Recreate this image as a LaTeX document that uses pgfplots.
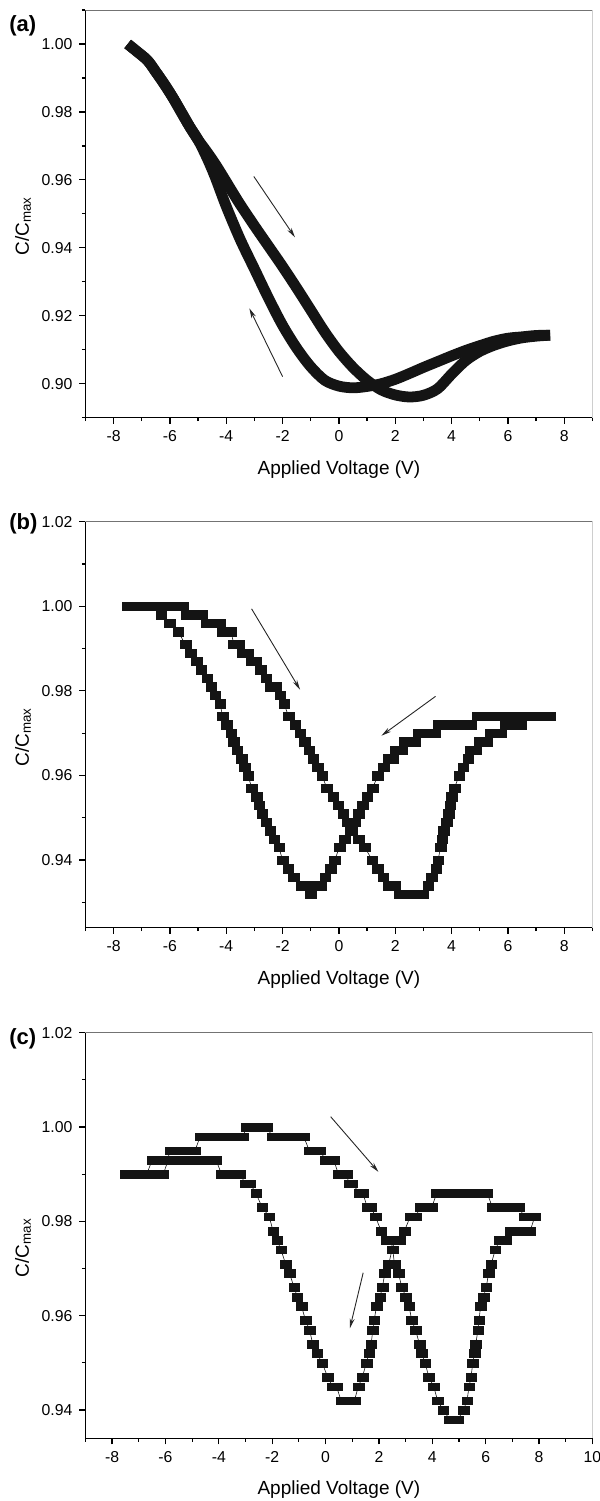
\documentclass[border=0pt]{standalone}
\usepackage{fontspec}
\setmainfont{Liberation Sans}
\usepackage{pgfplots}
\pgfplotsset{compat=1.18}
\usetikzlibrary{arrows.meta}

% common look of the three panels (1 px of the reference = 0.5pt)
\pgfplotsset{
  cvpanel/.style={
    scale only axis,
    width=253.5pt,
    anchor=north west,
    xmin=-9, xmax=9,
    axis x line*=bottom, axis y line*=left,
    axis line style={line width=0.65pt, black},
    tick align=outside,
    major tick length=3pt, minor tick length=1.75pt,
    every tick/.style={line width=0.6pt, black},
    xtick={-8,-6,...,8},
    minor xtick={-9,-7,...,9},
    /pgf/number format/assume math mode=true,
    tick label style={font=\fontsize{7.9}{9}\selectfont},
    yticklabel style={/pgf/number format/fixed,
      /pgf/number format/fixed zerofill, /pgf/number format/precision=2},
    label style={font=\fontsize{9.5}{11}\selectfont},
    xlabel={Applied Voltage (V)},
    ylabel={C/C\textsubscript{max}},
    xlabel style={at={(axis description cs:0.5,0)}, anchor=base, yshift=-28.25pt},
    ylabel style={at={(axis description cs:-0.1116,0.47)}, anchor=base},
  },
  stepmarks/.style={black!92, line width=0.3pt,
    mark=square*, mark size=2.2pt,
    mark options={solid, fill=black!92, draw=black!92, line width=0.1pt, xscale=1.2, yscale=#1}},
}
\tikzset{note/.style={-{Stealth[length=5pt, width=2.4pt]}, line width=0.45pt, black!85}}

\begin{document}
\begin{tikzpicture}
\path[use as bounding box] (0,0) rectangle (300pt,-750.5pt);

% ---------------- (a) ----------------
\begin{axis}[cvpanel, at={(42.7pt,-5pt)}, height=203.85pt,
    ymin=0.89, ymax=1.01,
    ytick={0.90,0.92,0.94,0.96,0.98,1.00},
    minor ytick={0.89,0.91,0.93,0.95,0.97,0.99,1.01}]
\draw[black!55, line width=0.5pt] (rel axis cs:0,1) -- (rel axis cs:1,1) -- (rel axis cs:1,0);
\addplot[black!92, line width=5.4pt, line join=round, smooth] coordinates {
  (-7.5,1.000)(-7.2,0.998)(-6.8,0.9952)(-6.5,0.9918)(-6.2,0.9882)(-5.9,0.9843)
  (-5.6,0.9800)(-5.3,0.9757)(-5.0,0.9718)(-4.7,0.9684)(-4.4,0.9648)(-4.1,0.9608)
  (-3.8,0.9567)(-3.5,0.9527)(-3.0,0.9465)(-2.5,0.9405)(-2.0,0.9345)(-1.5,0.9282)
  (-1.0,0.9217)(-0.5,0.9152)(0.0,0.9095)(0.5,0.9048)(1.0,0.9010)(1.5,0.8982)
  (2.0,0.8967)(2.5,0.8961)(3.0,0.8966)(3.5,0.8985)(4.0,0.9028)(4.5,0.9068)
  (5.0,0.9095)(5.5,0.9113)(6.0,0.9126)(6.5,0.9135)(7.0,0.9140)(7.5,0.9143)
};
\addplot[black!92, line width=5.4pt, line join=round, smooth] coordinates {
  (7.5,0.9143)(7.0,0.9142)(6.5,0.9138)(6.0,0.9134)(5.5,0.9125)(5.0,0.9112)
  (4.5,0.9098)(4.0,0.9082)(3.5,0.9065)(3.0,0.9048)(2.5,0.9030)(2.0,0.9013)
  (1.5,0.9000)(1.0,0.8992)(0.5,0.8988)(0.0,0.8993)(-0.5,0.9010)(-1.0,0.9050)
  (-1.5,0.9105)(-2.0,0.9172)(-2.5,0.9252)(-3.0,0.9338)(-3.5,0.9424)(-4.0,0.9522)
  (-4.4,0.9610)(-4.7,0.9668)(-5.0,0.9718)(-5.3,0.9757)(-5.6,0.9800)(-5.9,0.9843)
  (-6.2,0.9882)(-6.5,0.9918)(-6.8,0.9952)(-7.2,0.998)(-7.5,1.000)
};
\draw[note] (axis cs:-3.02,0.961) -- (axis cs:-1.56,0.9431);
\draw[note] (axis cs:-2.0,0.9021) -- (axis cs:-3.18,0.9222);
\end{axis}

% ---------------- (b) ----------------
\begin{axis}[cvpanel, at={(42.7pt,-260.85pt)}, height=203pt,
    ymin=0.924, ymax=1.02,
    ytick={0.94,0.96,0.98,1.00,1.02},
    minor ytick={0.93,0.95,0.97,0.99,1.01}]
\draw[black!55, line width=0.5pt] (rel axis cs:0,1) -- (rel axis cs:1,1) -- (rel axis cs:1,0);
\addplot[stepmarks=0.95] coordinates {
  (-7.5,1.000)(-7.3,1.000)(-7.1,1.000)(-6.9,1.000)(-6.7,1.000)(-6.5,1.000)
  (-6.3,1.000)(-6.1,1.000)(-5.9,1.000)(-5.7,1.000)(-5.55,1.000)
  (-5.4,0.998)(-5.2,0.998)(-5.0,0.998)(-4.86,0.998)
  (-4.7,0.996)(-4.5,0.996)(-4.37,0.996)(-4.24,0.996)
  (-4.12,0.994)(-3.95,0.994)(-3.83,0.994)
  (-3.73,0.991)(-3.55,0.991)
  (-3.42,0.989)(-3.25,0.989)
  (-3.11,0.987)(-2.96,0.987)
  (-2.79,0.985)(-2.59,0.983)(-2.43,0.981)(-2.25,0.981)
  (-2.09,0.979)(-1.95,0.977)(-1.79,0.974)(-1.55,0.972)(-1.38,0.970)
  (-1.21,0.968)(-1.06,0.966)(-0.91,0.964)(-0.76,0.962)(-0.60,0.960)
  (-0.43,0.957)(-0.20,0.955)(-0.03,0.953)(0.15,0.951)(0.30,0.949)
  (0.45,0.947)(0.70,0.945)(0.92,0.943)(1.18,0.940)(1.37,0.938)(1.57,0.936)
  (1.76,0.934)(2.0,0.934)
  (2.15,0.932)(2.35,0.932)(2.55,0.932)(2.75,0.932)(2.97,0.932)
  (3.17,0.934)(3.30,0.936)(3.45,0.938)(3.52,0.940)(3.61,0.943)(3.66,0.945)
  (3.72,0.947)(3.82,0.949)(3.90,0.951)(3.95,0.953)(4.0,0.955)(4.10,0.957)
  (4.27,0.960)(4.41,0.962)(4.58,0.964)(4.68,0.966)(4.86,0.966)
  (4.98,0.968)(5.12,0.968)(5.25,0.968)
  (5.39,0.970)(5.58,0.970)(5.76,0.970)
  (5.92,0.972)(6.1,0.972)(6.3,0.972)(6.47,0.972)
  (6.65,0.974)(6.85,0.974)(7.05,0.974)(7.25,0.974)(7.5,0.974)
};
\addplot[stepmarks=0.95] coordinates {
  (7.5,0.974)(7.3,0.974)(7.1,0.974)(6.9,0.974)(6.7,0.974)(6.5,0.974)(6.3,0.974)
  (6.1,0.974)(5.9,0.974)(5.7,0.974)(5.5,0.974)(5.3,0.974)(5.1,0.974)(4.9,0.974)
  (4.70,0.972)(4.5,0.972)(4.3,0.972)(4.1,0.972)(3.9,0.972)(3.7,0.972)(3.53,0.972)
  (3.40,0.970)(3.2,0.970)(3.0,0.970)(2.82,0.970)
  (2.71,0.968)(2.5,0.968)(2.32,0.968)
  (2.22,0.966)(2.02,0.966)
  (1.91,0.964)(1.76,0.964)
  (1.59,0.962)(1.38,0.960)(1.20,0.957)(1.0,0.955)(0.84,0.953)(0.70,0.951)
  (0.55,0.949)(0.40,0.947)(0.21,0.945)(0.02,0.943)(-0.15,0.940)(-0.30,0.938)
  (-0.49,0.936)(-0.65,0.934)(-0.8,0.934)(-1.0,0.932)(-1.2,0.934)(-1.35,0.934)
  (-1.6,0.936)(-1.8,0.938)(-2.0,0.940)(-2.13,0.943)(-2.3,0.945)(-2.45,0.947)
  (-2.59,0.949)(-2.73,0.951)(-2.84,0.953)(-2.93,0.955)(-3.09,0.957)(-3.23,0.960)
  (-3.34,0.962)(-3.45,0.964)(-3.61,0.966)(-3.73,0.968)(-3.83,0.970)(-3.98,0.972)
  (-4.13,0.974)(-4.22,0.977)(-4.4,0.979)(-4.54,0.981)(-4.68,0.983)(-4.89,0.985)
  (-5.06,0.987)(-5.27,0.989)(-5.45,0.991)(-5.71,0.994)(-6.02,0.996)(-6.32,0.998)
  (-6.6,1.000)(-6.8,1.000)(-7.0,1.000)(-7.2,1.000)(-7.5,1.000)
};
\draw[note] (axis cs:-3.10,0.9994) -- (axis cs:-1.38,0.9803);
\draw[note] (axis cs:3.43,0.9787) -- (axis cs:1.51,0.9694);
\end{axis}

% ---------------- (c) ----------------
\begin{axis}[cvpanel, at={(42.7pt,-516.35pt)}, height=202.8pt,
    xmax=10, xtick={-8,-6,...,10},
    ymin=0.934, ymax=1.02,
    ytick={0.94,0.96,0.98,1.00,1.02},
    minor ytick={0.95,0.97,0.99,1.01}]
\draw[black!55, line width=0.5pt] (rel axis cs:0,1) -- (rel axis cs:1,1) -- (rel axis cs:1,0);
\addplot[stepmarks=0.87] coordinates {
  (-7.5,0.990)(-7.3,0.990)(-7.1,0.990)(-6.9,0.990)(-6.7,0.990)
  (-6.5,0.993)(-6.3,0.993)(-6.1,0.993)(-5.95,0.993)
  (-5.8,0.995)(-5.6,0.995)(-5.4,0.995)(-5.2,0.995)(-5.0,0.995)(-4.89,0.995)
  (-4.7,0.998)(-4.5,0.998)(-4.3,0.998)(-4.1,0.998)(-3.9,0.998)(-3.7,0.998)
  (-3.5,0.998)(-3.3,0.998)(-3.1,0.998)
  (-2.95,1.000)(-2.75,1.000)(-2.55,1.000)(-2.35,1.000)(-2.2,1.000)
  (-2.0,0.998)(-1.8,0.998)(-1.6,0.998)(-1.4,0.998)(-1.2,0.998)(-1.0,0.998)(-0.82,0.998)
  (-0.61,0.995)(-0.42,0.995)(-0.22,0.995)
  (0.01,0.993)(0.16,0.993)(0.31,0.993)
  (0.48,0.990)(0.63,0.990)(0.78,0.990)
  (0.88,0.988)(1.0,0.988)
  (1.27,0.986)(1.4,0.986)
  (1.56,0.983)(1.7,0.983)
  (1.87,0.981)(2.08,0.978)(2.27,0.976)(2.45,0.976)(2.52,0.974)(2.58,0.971)
  (2.73,0.969)(2.86,0.966)(3.01,0.964)(3.13,0.962)(3.23,0.959)(3.37,0.957)
  (3.52,0.954)(3.60,0.952)(3.73,0.950)(3.87,0.947)(4.05,0.945)(4.20,0.942)
  (4.41,0.940)(4.65,0.938)(4.8,0.938)(4.96,0.938)
  (5.17,0.940)(5.3,0.942)(5.38,0.945)(5.45,0.947)(5.52,0.950)(5.58,0.952)
  (5.63,0.954)(5.71,0.957)(5.75,0.959)(5.81,0.962)(5.92,0.964)(6.02,0.966)
  (6.11,0.969)(6.21,0.971)(6.36,0.974)(6.53,0.976)(6.77,0.976)
  (6.94,0.978)(7.12,0.978)(7.3,0.978)(7.48,0.978)(7.67,0.978)(7.84,0.981)
};
\addplot[stepmarks=0.87] coordinates {
  (7.84,0.981)(7.64,0.981)(7.44,0.981)
  (7.25,0.983)(7.05,0.983)(6.85,0.983)(6.65,0.983)(6.45,0.983)(6.25,0.983)
  (6.06,0.986)(5.86,0.986)(5.66,0.986)(5.46,0.986)(5.26,0.986)(5.06,0.986)
  (4.86,0.986)(4.66,0.986)(4.46,0.986)(4.3,0.986)(4.17,0.986)
  (3.98,0.983)(3.77,0.983)(3.56,0.983)
  (3.37,0.981)(3.17,0.981)
  (2.96,0.978)(2.78,0.976)(2.6,0.976)(2.49,0.974)(2.37,0.971)(2.22,0.969)
  (2.13,0.966)(2.04,0.964)(1.91,0.962)(1.82,0.959)(1.77,0.957)(1.71,0.954)
  (1.63,0.952)(1.53,0.950)(1.38,0.947)(1.23,0.945)
  (1.08,0.942)(0.91,0.942)(0.75,0.942)(0.58,0.942)
  (0.41,0.945)(0.26,0.945)
  (0.08,0.947)(-0.13,0.950)(-0.32,0.952)(-0.48,0.954)(-0.60,0.957)(-0.75,0.959)
  (-0.90,0.962)(-1.06,0.964)(-1.18,0.966)(-1.35,0.969)(-1.50,0.971)(-1.67,0.974)
  (-1.82,0.976)(-1.97,0.978)(-2.11,0.981)(-2.38,0.983)(-2.61,0.986)
  (-2.83,0.988)(-3.01,0.988)
  (-3.2,0.990)(-3.45,0.990)(-3.7,0.990)(-3.9,0.990)
  (-4.1,0.993)(-4.3,0.993)(-4.5,0.993)(-4.7,0.993)(-4.9,0.993)(-5.1,0.993)
  (-5.3,0.993)(-5.5,0.993)(-5.7,0.993)(-5.9,0.993)
  (-6.08,0.990)(-6.3,0.990)(-6.5,0.990)(-6.7,0.990)(-6.9,0.990)(-7.1,0.990)
  (-7.3,0.990)(-7.5,0.990)
};
\draw[note] (axis cs:0.19,1.0022) -- (axis cs:1.98,0.9905);
\draw[note] (axis cs:1.41,0.9691) -- (axis cs:0.91,0.9573);
\end{axis}

% panel letters
\node[anchor=base west, inner sep=0pt, font=\bfseries\fontsize{11}{13}\selectfont] at (4.5pt,-15.5pt) {(a)};
\node[anchor=base west, inner sep=0pt, font=\bfseries\fontsize{11}{13}\selectfont] at (4.5pt,-264.5pt) {(b)};
\node[anchor=base west, inner sep=0pt, font=\bfseries\fontsize{11}{13}\selectfont] at (4.5pt,-522pt) {(c)};
\end{tikzpicture}
\end{document}
